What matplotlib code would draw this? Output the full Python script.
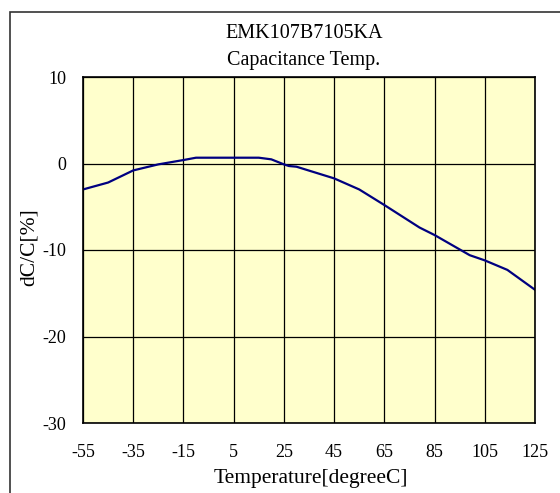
import matplotlib.pyplot as plt
from matplotlib.patches import Rectangle
from matplotlib.ticker import FuncFormatter

# temperature characteristic
temp = [-55, -45, -35, -25, -15, -10, 0, 10, 15, 20, 25, 27, 30, 45, 55, 65, 79, 85, 99, 105, 114, 125]
dcc = [-3.0, -2.2, -0.8, -0.1, 0.4, 0.67, 0.67, 0.67, 0.67, 0.48, -0.1, -0.29, -0.37, -1.72, -3.0, -4.8, -7.4, -8.27, -10.6, -11.2, -12.3, -14.6]
xticks = [-55, -35, -15, 5, 25, 45, 65, 85, 105, 125]
yticks = [10, 0, -10, -20, -30]

plt.rcParams['font.family'] = ['Liberation Serif', 'DejaVu Serif']

W, H = 560, 493
fig = plt.figure(figsize=(W / 100, H / 100), dpi=100)
ax = fig.add_axes([83 / W, 1 - 423 / H, (535 - 83) / W, (423 - 77) / H])

# outer frame (right/bottom edges cut off in the original)
fig.patches.append(Rectangle((9.5 / W, -0.1), 1.2, 1 - 12 / H + 0.1,
                             transform=fig.transFigure, fill=False,
                             edgecolor='#333333', linewidth=1.2))

ax.set_facecolor('#ffffcc')
ax.plot(temp, dcc, color='#000080', linewidth=1.6)

ax.set_xlim(-55, 125)
ax.set_ylim(-30, 10)
ax.set_xticks(xticks)
ax.set_yticks(yticks)
plain = FuncFormatter(lambda v, p: '%d' % v)
ax.xaxis.set_major_formatter(plain)
ax.yaxis.set_major_formatter(plain)
ax.grid(True, color='black', linewidth=0.9)
ax.tick_params(length=0, labelsize=13)
ax.tick_params(axis='x', pad=15)
ax.tick_params(axis='y', pad=12)
for s in ax.spines.values():
    s.set_linewidth(1.2)

fig.text(304 / W, 1 - 33 / H, 'EMK107B7105KA', ha='center', va='center', fontsize=14.5)
fig.text(304 / W, 1 - 60 / H, 'Capacitance Temp.', ha='center', va='center', fontsize=14.5)
fig.text(311 / W, 1 - 478 / H, 'Temperature[degreeC]', ha='center', va='center', fontsize=15.5)
fig.text(29 / W, 1 - 247 / H, 'dC/C[%]', ha='center', va='center', rotation=90, fontsize=15.5)

fig.savefig('out.png', dpi=100)
